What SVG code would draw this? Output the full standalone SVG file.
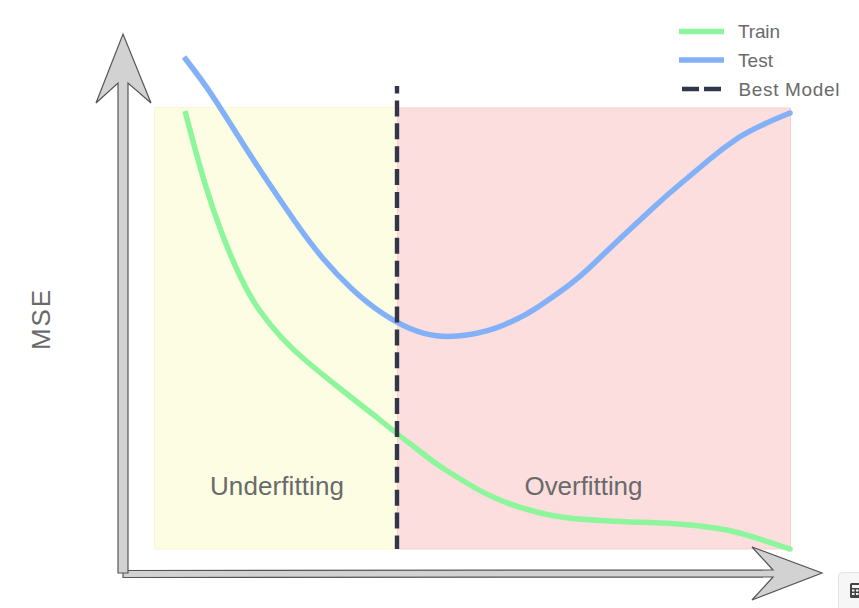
<svg xmlns="http://www.w3.org/2000/svg" width="859" height="608" viewBox="0 0 859 608">
<defs>
<marker id="capG" markerUnits="userSpaceOnUse" markerWidth="8" markerHeight="8" refX="4" refY="4"><circle cx="4" cy="4" r="2.75" fill="#8df59c"/></marker>
<marker id="capB" markerUnits="userSpaceOnUse" markerWidth="8" markerHeight="8" refX="4" refY="4"><circle cx="4" cy="4" r="2.75" fill="#82b1f8"/></marker>
</defs>
<style>
text{font-family:"Liberation Sans",Arial,sans-serif;fill:#6a6a6a}
.lab{font-size:26px}
.leg{font-size:19px}
.c{fill:none;stroke-width:5.5;stroke-linejoin:round}
.train{stroke:#8df59c;marker-end:url(#capG)}
.test{stroke:#82b1f8;marker-end:url(#capB)}
.ln{fill:none;stroke-width:5.5}
.best{stroke:#32364a;stroke-width:4.4;fill:none;stroke-dasharray:16 6.9;stroke-dashoffset:8.5}
.arrow{fill:#d2d2d2;stroke:#555;stroke-width:1.2;stroke-linejoin:miter}
</style>
<rect width="859" height="608" fill="#fff"/>
<g id="underfitting-region"><rect x="154.500" y="107.500" width="243" height="441.500" fill="#fdfde3" stroke="#fdf5d0" stroke-width="1"/></g>
<g id="overfitting-region"><rect x="397.500" y="108" width="393" height="441" fill="#fcdedf" stroke="#fbcfca" stroke-width="1"/></g>
<g id="axes">
<path id="x-axis" class="arrow" d="M123 570.500 L773 570 L752 547 L822 573 L752 600 L773 577 L123 577.500 Z"/>
<path id="y-axis" class="arrow" d="M118 573 L118 83 L96 103 L123 34 L151 103 L128 83 L128 573 Z"/>
</g>
<g id="connectors">
<path class="c train" d="M185 111Q197 157 204.500 182Q212 207 221 231Q230 255 240 276Q250 297 260 311Q270 325 281.500 337.500Q293 350 308 362.500Q323 375 340 388.500Q357 402 377 417.500Q397 434 415 447.500Q433 462 446.500 470.500Q460 479 473.500 487Q487 495 503.500 501.500Q520 508 538.500 512.500Q557 517 573.500 518.500Q590 520 610 521Q630 522 650 522.500Q670 523 690 525Q710 527 726.500 530Q743 533 790 549"/>
<path class="c test" d="M184 57Q202 80 212.500 96Q223 112 236.500 133.500Q250 155 265 177.500Q280 200 295 221.500Q310 243 323.500 259Q337 275 352 289Q367 303 382 313Q397 323 410 328.500Q423 334 436.500 335.750Q450 337.500 468.500 334.750Q487 332 505 324.500Q523 317 538 307Q553 297 566.500 287Q580 277 595 262.500Q610 248 625 234Q640 220 653.500 207.500Q667 195 682 182.500Q697 170 710 159Q723 148 738 138Q753 128 790 113"/>
<path class="best" d="M397 86V549"/>
</g>
<g id="legend">
<path class="ln" stroke="#8df59c" d="M679 31.500H724"/>
<path class="ln" stroke="#82b1f8" d="M679 60H724"/>
<path d="M682 89H721" fill="none" stroke="#32364a" stroke-width="4.4" stroke-dasharray="17 5"/>
<text class="leg" x="738" y="38" textLength="42" lengthAdjust="spacing">Train</text>
<text class="leg" x="738" y="67" textLength="35" lengthAdjust="spacing">Test</text>
<text class="leg" x="738.500" y="96" textLength="101" lengthAdjust="spacing">Best Model</text>
</g>
<g id="labels">
<text class="lab" x="210" y="495" textLength="134" lengthAdjust="spacing">Underfitting</text>
<text class="lab" x="524.500" y="495" textLength="118" lengthAdjust="spacing">Overfitting</text>
<text class="lab" transform="translate(50 350) rotate(-90)" textLength="60" lengthAdjust="spacing">MSE</text>
</g>
<g id="toolbar-button">
<rect x="838.500" y="572.500" width="30" height="40" rx="4" fill="#f6f6f6" stroke="#e2e2e2"/>
<rect x="850" y="583" width="12" height="15" rx="1.500" fill="#444"/>
<rect x="852" y="585" width="8" height="3" fill="#f6f6f6"/>
<path d="M852 590.500h2.500M856 590.500h2.500M852 594h2.500M856 594h2.500" stroke="#f6f6f6" stroke-width="2"/>
</g>
</svg>
